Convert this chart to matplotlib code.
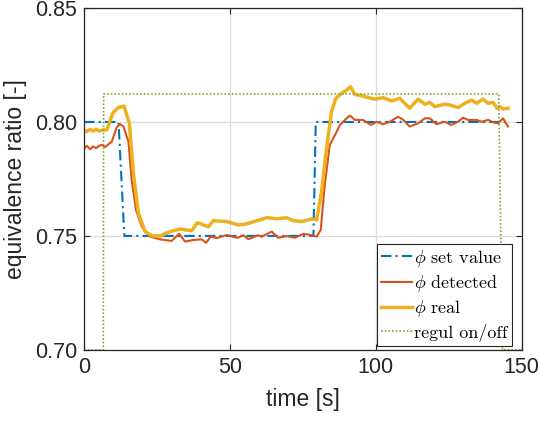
import matplotlib
matplotlib.use("Agg")
import matplotlib.pyplot as plt
from matplotlib.ticker import FormatStrFormatter

# ---- data ----
set_t = [0, 11.8, 13.8, 78.6, 79.4, 144.2]
set_v = [0.80, 0.80, 0.75, 0.75, 0.80, 0.80]

det_t = [0.0, 1.0, 2.1, 3.1, 4.1, 5.1, 6.1, 7.2, 9.5, 11.2, 12.3, 13.5, 15.2, 16.3, 17.8,
         19.8, 22.6, 26.0, 30.0, 32.6, 34.6, 37.4, 40.3, 41.8, 43.4, 45.4, 48.9, 51.7,
         52.8, 54.6, 56.3, 59.7, 60.8, 64.3, 66.5, 69.4, 72.3, 75.1, 77.4, 79.7, 81.1,
         82.5, 84.2, 86.0, 87.7, 89.4, 91.1, 92.8, 95.6, 97.4, 98.5, 100.2, 102.5, 104.8,
         107.6, 109.4, 111.6, 114.5, 116.8, 118.5, 120.8, 123.6, 125.9, 128.2, 129.9,
         131.6, 134.5, 136.2, 138.5, 140.2, 141.9, 143.6, 145.3]
det_v = [0.7885, 0.7895, 0.7880, 0.7893, 0.7885, 0.7895, 0.7900, 0.7890, 0.7914, 0.7977,
         0.7991, 0.7980, 0.7914, 0.7746, 0.7614, 0.7540, 0.7497, 0.7485, 0.7478, 0.7509,
         0.7475, 0.7482, 0.7485, 0.7470, 0.7497, 0.7490, 0.7504, 0.7494, 0.7492, 0.7503,
         0.7486, 0.7503, 0.7496, 0.7519, 0.7492, 0.7499, 0.7492, 0.7509, 0.7505, 0.7497,
         0.7526, 0.7724, 0.7899, 0.7943, 0.7987, 0.8009, 0.8028, 0.8009, 0.8009, 0.7994,
         0.7987, 0.8001, 0.7990, 0.8001, 0.8023, 0.8009, 0.7980, 0.7994, 0.8016, 0.8016,
         0.7990, 0.8001, 0.7987, 0.8001, 0.8019, 0.8009, 0.8009, 0.8001, 0.8009, 0.7998,
         0.7994, 0.8016, 0.7980]

real_t = [0.0, 1.0, 2.1, 3.1, 4.1, 5.1, 6.5, 7.8, 9.9, 11.6, 13.7, 15.5, 16.9, 18.6, 20.9,
          23.2, 26.0, 29.5, 32.9, 36.9, 38.8, 42.6, 44.3, 46.6, 48.9, 52.8, 55.1, 59.1,
          62.6, 66.0, 69.4, 71.7, 74.6, 78.2, 79.7, 81.4, 83.1, 84.8, 86.3, 88.3, 90.0,
          91.3, 92.8, 95.1, 97.4, 99.7, 102.5, 105.4, 108.2, 111.6, 114.5, 116.8, 118.5,
          120.2, 123.6, 125.3, 128.2, 130.5, 132.8, 134.5, 136.7, 138.5, 140.2, 141.5,
          142.5, 143.6, 145.3]
real_v = [0.7962, 0.7958, 0.7968, 0.7960, 0.7968, 0.7960, 0.7965, 0.7965, 0.8040, 0.8062,
          0.8070, 0.7994, 0.7776, 0.7600, 0.7519, 0.7500, 0.7500, 0.7519, 0.7530, 0.7523,
          0.7558, 0.7540, 0.7567, 0.7565, 0.7563, 0.7548, 0.7551, 0.7566, 0.7580, 0.7575,
          0.7580, 0.7567, 0.7563, 0.7575, 0.7570, 0.7694, 0.7885, 0.8045, 0.8104, 0.8126,
          0.8140, 0.8155, 0.8121, 0.8115, 0.8107, 0.8100, 0.8107, 0.8092, 0.8104, 0.8060,
          0.8100, 0.8078, 0.8086, 0.8067, 0.8078, 0.8075, 0.8063, 0.8082, 0.8096, 0.8082,
          0.8100, 0.8082, 0.8086, 0.8060, 0.8067, 0.8057, 0.8060]

reg_t = [0, 6.6, 6.7, 142.1, 143.4, 150]
reg_v = [0.70, 0.70, 0.8123, 0.8123, 0.70, 0.70]

labels = [r"$\phi$ set value", r"$\phi$ detected", r"$\phi$ real", "regul on/off"]
xticks = [0, 50, 100, 150]
yticks = [0.70, 0.75, 0.80, 0.85]

# ---- plot ----
plt.rcParams['font.family'] = ['Liberation Sans', 'DejaVu Sans']
plt.rcParams['mathtext.fontset'] = 'cm'

fig = plt.figure(figsize=(5.39, 4.22), dpi=100)
ax = fig.add_axes([0.156, 0.171, 0.812, 0.810])

ax.plot(set_t, set_v, color='#0072BD', lw=1.5, ls=(0, (5, 2, 1, 2)), label=labels[0])
ax.plot(det_t, det_v, color='#D95319', lw=1.5, label=labels[1])
ax.plot(real_t, real_v, color='#EDB120', lw=2.5, label=labels[2])
ax.plot(reg_t, reg_v, color='#77AC30', lw=1.2, ls=(0, (1, 1.2)), label=labels[3])

ax.set_xlim(0, 150)
ax.set_ylim(0.70, 0.85)
ax.set_xticks(xticks)
ax.set_yticks(yticks)
ax.yaxis.set_major_formatter(FormatStrFormatter('%.2f'))
ax.grid(True, color='#dcdcdc', lw=0.9)
ax.set_axisbelow(True)
ax.tick_params(direction='in', top=True, right=True, length=4, width=0.8,
               labelsize=15.5, colors='#262626', pad=5)
for s in ax.spines.values():
    s.set_color('#262626')
    s.set_linewidth(0.9)

ax.set_xlabel('time [s]', fontsize=16.5, color='#262626', labelpad=7)
ax.set_ylabel('equivalence ratio [-]', fontsize=16.5, color='#262626', labelpad=6)

leg = ax.legend(loc='lower right', bbox_to_anchor=(0.977, 0.012),
                prop={'family': 'cmr10', 'size': 13},
                handlelength=1.75, handletextpad=0.12, borderpad=0.22,
                labelspacing=0.24, borderaxespad=0.0, fancybox=False,
                framealpha=1, edgecolor='#262626')
leg.get_frame().set_linewidth(0.8)

fig.savefig('out.png', dpi=100)
